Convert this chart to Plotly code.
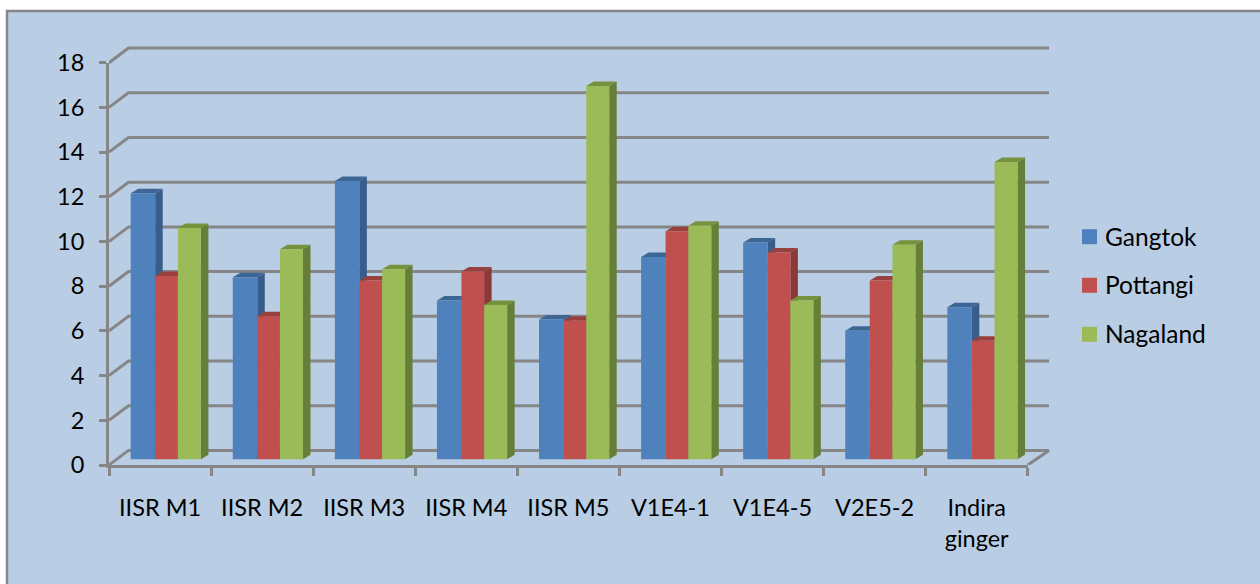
import plotly.graph_objects as go

# Mineral content by ginger accession at three locations
categories = ["IISR M1", "IISR M2", "IISR M3", "IISR M4", "IISR M5",
              "V1E4-1", "V1E4-5", "V2E5-2", "Indira<br>ginger"]
gangtok = [11.9, 8.15, 12.45, 7.1, 6.25, 9.05, 9.7, 5.75, 6.8]
pottangi = [8.2, 6.4, 8.0, 8.4, 6.2, 10.2, 9.25, 8.0, 5.3]
nagaland = [10.35, 9.4, 8.5, 6.9, 16.7, 10.45, 7.1, 9.6, 13.3]
y_ticks = list(range(0, 20, 2))

series = [
    ("Gangtok", gangtok, "#4F81BD", "#385D8A", "#3E6695"),
    ("Pottangi", pottangi, "#C0504D", "#8C3836", "#98403E"),
    ("Nagaland", nagaland, "#9BBB59", "#677E38", "#76923C"),
]

FONT = "Lato"
GREY = "#868686"
W, H = 1260, 584
LEFT, RIGHT, TOP, BOTTOM = 109.0, 1027.7, 62.7, 465.0
# The depth subplot is a little larger than the value axes so the back wall fits
OUTER_RIGHT, OUTER_TOP = 1070.0, 30.0

# Pseudo-3D proportions, expressed in axis units
unit_x = (RIGHT - LEFT) / len(categories)
unit_y = (BOTTOM - TOP) / 18
bar_edges = [e / unit_x for e in (0.0, 24.5, 47.2, 70.2)]
lead = 21.7 / unit_x
depth_x = 7.5 / unit_x
depth_y = 4.5 / unit_y
floor_y = 5.7 / unit_y
wall_x = 19.5 / unit_x
wall_y = 14.6 / unit_y
wall_end = (1049 - LEFT) / unit_x


def px(p):
    return (p - LEFT) / (OUTER_RIGHT - LEFT)


def py(p):
    return (BOTTOM - p) / (BOTTOM - OUTER_TOP)


fig = go.Figure()

# Back-wall gridlines running from the value axis around the left wall
grid_x, grid_y = [], []
for v in y_ticks:
    grid_x += [0, wall_x, wall_end, None]
    grid_y += [v, v + wall_y, v + wall_y, None]
grid_x += [len(categories), wall_end]
grid_y += [0, wall_y]
fig.add_trace(go.Scatter(x=grid_x, y=grid_y, mode="lines", cliponaxis=False,
                         line=dict(color=GREY, width=3), hoverinfo="skip",
                         showlegend=False))

# Side and top faces of each bar, painted left to right
for k, (name, values, front, side, top) in enumerate(series):
    sx, sy, tx, ty = [], [], [], []
    for i, v in enumerate(values):
        x0 = i + lead + bar_edges[k]
        x1 = i + lead + bar_edges[k + 1]
        y1 = floor_y + v
        sx += [x1, x1 + depth_x, x1 + depth_x, x1, x1, None]
        sy += [floor_y, floor_y + depth_y, y1 + depth_y, y1, floor_y, None]
        tx += [x0, x0 + depth_x, x1 + depth_x, x1, x0, None]
        ty += [y1, y1 + depth_y, y1 + depth_y, y1, y1, None]
    for xs, ys, colour in ((sx, sy, side), (tx, ty, top)):
        fig.add_trace(go.Scatter(x=xs, y=ys, mode="lines", fill="toself",
                                 fillcolor=colour, line=dict(width=0, color=colour),
                                 cliponaxis=False, hoverinfo="skip", showlegend=False))

# Front faces sit on a second subplot drawn above the depth faces
for k, (name, values, front, side, top) in enumerate(series):
    fig.add_trace(go.Bar(name=name, x=categories, y=values, base=floor_y,
                         width=bar_edges[k + 1] - bar_edges[k],
                         offset=lead - 0.5 + bar_edges[k],
                         marker=dict(color=front, line=dict(width=0)),
                         cliponaxis=False, xaxis="x2", yaxis="y2", showlegend=False))

tick_font = dict(family=FONT, size=23.5, color="#000000")
legend_font = dict(family=FONT, size=24.5, color="#000000")
fig.update_layout(
    width=W, height=H, autosize=False,
    margin=dict(l=LEFT, r=W - OUTER_RIGHT, t=OUTER_TOP, b=H - BOTTOM, pad=0),
    paper_bgcolor="#FFFFFF", plot_bgcolor="rgba(0,0,0,0)",
    barmode="overlay",
    xaxis=dict(range=[0, (OUTER_RIGHT - LEFT) / unit_x], visible=False, fixedrange=True),
    yaxis=dict(range=[0, (BOTTOM - OUTER_TOP) / unit_y], visible=False, fixedrange=True),
    xaxis2=dict(type="category", categoryorder="array", categoryarray=categories,
                range=[-0.5, len(categories) - 0.5], anchor="y2",
                domain=[0, px(RIGHT)],
                tickson="boundaries", ticks="outside", ticklen=8, tickwidth=3,
                tickcolor=GREY, showline=True, linecolor=GREY, linewidth=3,
                showgrid=False, tickfont=tick_font, ticklabelstandoff=20, tickangle=0),
    yaxis2=dict(range=[0, 18], anchor="x2", domain=[0, py(TOP)],
                tickmode="array", tickvals=y_ticks, ticks="outside",
                ticklen=7, tickwidth=3, tickcolor=GREY, showline=True, linecolor=GREY,
                linewidth=3, showgrid=False, zeroline=False, tickfont=tick_font,
                ticklabelstandoff=10),
)

# Chart frame: background panel with its top and left border
shapes = [
    dict(type="rect", xref="paper", yref="paper", layer="below",
         x0=px(7), x1=px(W + 10), y0=py(H + 10), y1=py(11),
         fillcolor="#B9CDE5", line=dict(color=GREY, width=2.5)),
]
annotations = []

# Legend: colour squares with their series names
legend_rows = [236.7, 285.3, 334.3]
for (name, values, front, side, top), row in zip(series, legend_rows):
    shapes.append(dict(type="rect", xref="paper", yref="paper",
                       x0=px(1082), x1=px(1097), y0=py(row + 7.5), y1=py(row - 7.5),
                       fillcolor=front, line=dict(width=0)))
    annotations.append(dict(xref="paper", yref="paper", x=px(1104), y=py(row - 0.5),
                            xanchor="left", yanchor="middle", showarrow=False,
                            text=name, font=legend_font, borderpad=0))

fig.update_layout(shapes=shapes, annotations=annotations)
fig.write_html("out.html")
